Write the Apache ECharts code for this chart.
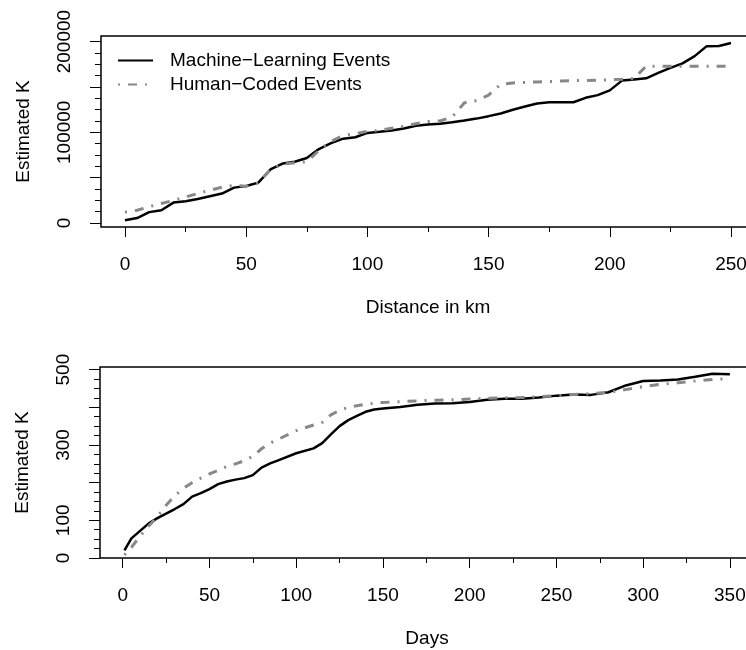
<!DOCTYPE html>
<html>
<head>
<meta charset="utf-8">
<script src="https://cdn.jsdelivr.net/npm/echarts@6/dist/echarts.min.js"></script>
<style>
  html, body { margin: 0; padding: 0; overflow: hidden; background: #fff; }
  #chart { width: 760px; height: 650px; }
</style>
</head>
<body>
<div id="chart"></div>
<script>
  // top panel: distance in km
  const km = [0, 5, 10, 15, 20, 25, 30, 35, 40, 45, 50, 55, 60, 65, 70, 75, 80, 85, 90, 95,
    100, 105, 110, 115, 120, 125, 130, 135, 140, 145, 150, 155, 160, 165, 170, 175, 180, 185,
    190, 195, 200, 205, 210, 215, 220, 225, 230, 235, 240, 245, 250]
  const mlDistance = [3000, 5500, 12000, 14000, 22500, 24000, 26500, 29500, 32500, 39000, 40800,
    44500, 59000, 65500, 67500, 71700, 81500, 88000, 93000, 94500, 99300, 100500, 102000, 104200,
    107200, 108500, 109500, 111000, 113000, 115100, 117800, 120800, 124800, 128500, 131700,
    133000, 133100, 133100, 138000, 141000, 146200, 157000, 158300, 159500, 165500, 171000,
    176000, 184000, 195000, 195200, 198500]
  const hcDistance = [12000, 14000, 18000, 21500, 25000, 28700, 32500, 36000, 39500, 41500, 40500,
    44000, 59000, 65000, 66500, 67500, 80000, 90000, 96500, 98500, 101000, 102000, 104500, 106500,
    109500, 111800, 112500, 117000, 132500, 135000, 141000, 153000, 154400, 155000, 155500,
    156000, 156500, 157000, 157000, 157300, 158000, 158500, 159200, 173000, 172800, 172800,
    172800, 172800, 172800, 172800, 172800]

  // bottom panel: days
  const days = [1, 5, 10, 15, 20, 25, 30, 35, 40, 45, 50, 55, 60, 65, 70, 75, 80, 85, 90, 100,
    110, 115, 120, 125, 130, 135, 140, 145, 150, 160, 170, 180, 190, 200, 210, 220, 230, 240,
    250, 260, 270, 280, 290, 300, 310, 320, 330, 340, 350]
  const mlDays = [20, 52, 72, 92, 106, 118, 130, 143, 163, 172, 183, 196, 203, 208, 212, 220, 240,
    251, 260, 278, 291, 305, 328, 350, 366, 377, 388, 394, 397, 401, 407, 410, 411, 414, 420, 423,
    423, 426, 431, 434, 433, 440, 458, 470, 471, 474, 481, 489, 488]
  const hcDays = [8, 28, 58, 85, 110, 140, 165, 185, 200, 212, 223, 233, 243, 250, 258, 270, 290,
    305, 316, 338, 353, 360, 380, 392, 400, 404, 408, 411, 413, 415, 417, 419, 420, 422, 424, 425,
    426, 428, 431, 434, 436, 440, 447, 455, 461, 465, 470, 474, 476]

  // ticks
  const kmTicks = [0, 50, 100, 150, 200, 250]
  const kmMinor = [25, 75, 125, 175, 225]
  const kTopTicks = [0, 50000, 100000, 150000, 200000]
  const kTopLabels = [0, 100000, 200000]
  const kTopMinor = [12500, 25000, 37500, 62500, 75000, 87500, 112500, 125000, 137500,
    162500, 175000, 187500]
  const dayTicks = [0, 50, 100, 150, 200, 250, 300, 350]
  const dayMinor = [25, 75, 125, 175, 225, 275, 325]
  const kBotTicks = [0, 100, 200, 300, 400, 500]
  const kBotLabels = [0, 100, 300, 500]
  const kBotMinor = [25, 50, 75, 125, 150, 175, 225, 250, 275, 325, 350, 375, 425, 450, 475]

  const font = '"Liberation Sans", Arial, Helvetica, sans-serif'
  const fs = 19

  function majorX(grid, min, max, ticks, name) {
    return {
      type: 'value', gridIndex: grid, min: min, max: max,
      name: name, nameLocation: 'middle', nameGap: 71,
      nameTextStyle: { color: '#000', fontSize: fs, fontFamily: font },
      axisLine: { show: false, onZero: false },
      splitLine: { show: false },
      axisTick: { show: true, length: 10, customValues: ticks, lineStyle: { color: '#000', width: 1 } },
      axisLabel: { customValues: ticks, margin: 28, color: '#000', fontSize: fs, fontFamily: font, formatter: v => String(v) }
    }
  }
  function minorX(grid, min, max, ticks) {
    return {
      type: 'value', gridIndex: grid, min: min, max: max, position: 'bottom',
      axisLine: { show: false, onZero: false }, splitLine: { show: false }, axisLabel: { show: false },
      axisTick: { show: true, length: 5, customValues: ticks, lineStyle: { color: '#000', width: 1 } }
    }
  }
  function majorY(grid, min, max, ticks, labels) {
    return {
      type: 'value', gridIndex: grid, min: min, max: max,
      name: 'Estimated K', nameLocation: 'middle', nameGap: 68,
      nameTextStyle: { color: '#000', fontSize: fs, fontFamily: font },
      axisLine: { show: false, onZero: false },
      splitLine: { show: false },
      axisTick: { show: true, length: 11, customValues: ticks, lineStyle: { color: '#000', width: 1 } },
      axisLabel: {
        customValues: labels, rotate: 90, align: 'center', verticalAlign: 'bottom', margin: 27,
        color: '#000', fontSize: fs, fontFamily: font, formatter: v => String(v)
      }
    }
  }
  function minorY(grid, min, max, ticks) {
    return {
      type: 'value', gridIndex: grid, min: min, max: max, position: 'left',
      axisLine: { show: false, onZero: false }, splitLine: { show: false }, axisLabel: { show: false },
      axisTick: { show: true, length: 6, customValues: ticks, lineStyle: { color: '#000', width: 1 } }
    }
  }

  const mlStyle = { color: '#000', width: 2.5 }
  const hcStyle = { color: '#888', width: 3, type: [2, 8, 9, 8] }

  const chart = echarts.init(document.getElementById('chart'), null, { renderer: 'canvas' })
  chart.setOption({
    animation: false,
    backgroundColor: '#fff',
    grid: [
      { left: 101, top: 36, width: 654, height: 191, show: true, borderColor: '#000', borderWidth: 1.5 },
      { left: 100, top: 367, width: 654, height: 191, show: true, borderColor: '#000', borderWidth: 1.5 }
    ],
    legend: {
      left: 112, top: 46, orient: 'vertical', itemWidth: 35, itemHeight: 14, itemGap: 5,
      itemStyle: { opacity: 0 },
      textStyle: { color: '#000', fontSize: fs, fontFamily: font, padding: [0, 0, 0, 12] },
      data: ['Machine\u2212Learning Events', 'Human\u2212Coded Events']
    },
    xAxis: [
      majorX(0, -9.9, 259.9, kmTicks, 'Distance in km'),
      minorX(0, -9.9, 259.9, kmMinor),
      majorX(1, -13.1, 363.9, dayTicks, 'Days'),
      minorX(1, -13.1, 363.9, dayMinor)
    ],
    yAxis: [
      majorY(0, -4410, 206170, kTopTicks, kTopLabels),
      minorY(0, -4410, 206170, kTopMinor),
      majorY(1, 0, 507, kBotTicks, kBotLabels),
      minorY(1, 0, 507, kBotMinor)
    ],
    series: [
      {
        name: 'Machine\u2212Learning Events', type: 'line', xAxisIndex: 0, yAxisIndex: 0,
        showSymbol: false, symbol: 'none', lineStyle: mlStyle, itemStyle: { color: '#000' },
        data: km.map((k, i) => [k, mlDistance[i]])
      },
      {
        name: 'Human\u2212Coded Events', type: 'line', xAxisIndex: 0, yAxisIndex: 0,
        showSymbol: false, symbol: 'none', lineStyle: hcStyle, itemStyle: { color: '#888' },
        data: km.map((k, i) => [k, hcDistance[i]])
      },
      {
        name: 'ml-days', type: 'line', xAxisIndex: 2, yAxisIndex: 2,
        showSymbol: false, symbol: 'none', lineStyle: mlStyle, itemStyle: { color: '#000' },
        data: days.map((d, i) => [d, mlDays[i]])
      },
      {
        name: 'hc-days', type: 'line', xAxisIndex: 2, yAxisIndex: 2,
        showSymbol: false, symbol: 'none', lineStyle: hcStyle, itemStyle: { color: '#888' },
        data: days.map((d, i) => [d, hcDays[i]])
      }
    ]
  })
</script>
</body>
</html>
